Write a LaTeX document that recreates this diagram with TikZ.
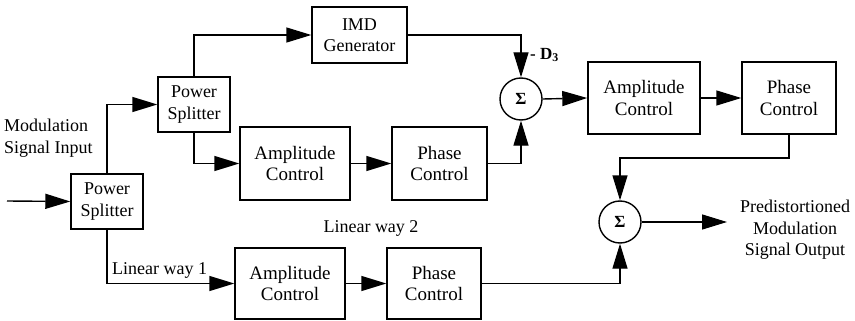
\documentclass[tikz,border=0pt]{standalone}
\usepackage{fontspec}
\setmainfont{Liberation Serif}
\usetikzlibrary{arrows.meta}
\begin{document}
\begin{tikzpicture}[x=1pt,y=-1pt,
  every node/.style={font=\fontsize{18}{21.5}\selectfont},
  blk/.style={draw,line width=1.4pt,align=center,inner sep=0pt,font=\fontsize{19}{21.5}\selectfont},
  sumnode/.style={draw,circle,line width=1.4pt,minimum size=42pt,inner sep=0pt,font=\fontsize{17}{18}\selectfont\bfseries},
  lbl/.style={align=center,inner sep=0pt},
  conn/.style={line width=1.4pt,-{Triangle[length=25pt,width=15pt]}}]
\useasboundingbox (0,0) rectangle (855,321);
% blocks
\node[blk,minimum width=72pt,minimum height=55pt,font=\fontsize{18}{21.5}\selectfont] (ps1) at (107,201.5) {Power\\Splitter};
\node[blk,minimum width=72pt,minimum height=55pt,font=\fontsize{18}{21.5}\selectfont] (ps2) at (194,104.5) {Power\\Splitter};
\node[blk,minimum width=95pt,minimum height=56pt,font=\fontsize{18}{21.5}\selectfont] (imd) at (359.5,35) {IMD\\Generator};
\node[blk,minimum width=110pt,minimum height=73pt] (amp2) at (295,163.5) {Amplitude\\Control};
\node[blk,minimum width=95pt,minimum height=73pt] (ph2) at (439.5,163.5) {Phase\\Control};
\node[blk,minimum width=110pt,minimum height=71pt] (amp1) at (290,283.5) {Amplitude\\Control};
\node[blk,minimum width=94pt,minimum height=71pt] (ph1) at (434,283.5) {Phase\\Control};
\node[sumnode] (s1) at (521,99) {Σ};
\node[blk,minimum width=112pt,minimum height=72pt] (amp3) at (644,98) {Amplitude\\Control};
\node[blk,minimum width=94pt,minimum height=72pt] (ph3) at (789,98) {Phase\\Control};
\node[sumnode] (s2) at (620,222) {Σ};
% free ends
\coordinate (in) at (7,201);
\coordinate (out) at (727,222);
% labels
\node[lbl,align=left,anchor=west] (modin) at (4,138) {Modulation\\Signal Input};
\node[lbl,anchor=west] (lw1) at (112,270) {Linear way 1};
\node[lbl] (lw2) at (371,228) {Linear way 2};
\node[lbl,anchor=west,font=\fontsize{17}{20}\selectfont\bfseries] (d3) at (530,55) {- D\textsubscript{3}};
\node[lbl] (outl) at (795,230) {Predistortioned\\Modulation\\Signal Output};
% connectors
\draw[conn] (in) -- (ps1.west);
\draw[conn] (ps1.north) |- (ps2.west);
\draw[conn] (ps2.north) |- (imd.west);
\draw[conn] (ps2.south) |- (amp2.west);
\draw[conn] (amp2.east) -- (ph2.west);
\draw[conn] (ph2.east) -| (s1.south);
\draw[conn] (imd.east) -| (s1.north);
\draw[conn] (s1.east) -- (amp3.west);
\draw[conn] (amp3.east) -- (ph3.west);
\draw[conn] (ph3.south) -- (ph3.south |- 0,158) -| (s2.north);
\draw[conn] (ps1.south) |- (amp1.west);
\draw[conn] (amp1.east) -- (ph1.west);
\draw[conn] (ph1.east) -| (s2.south);
\draw[conn] (s2.east) -- (out);
\end{tikzpicture}
\end{document}
